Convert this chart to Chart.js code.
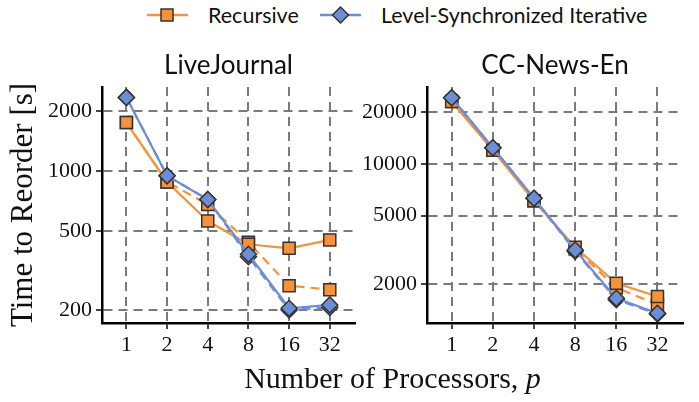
<!DOCTYPE html>
<html lang="en">
<head>
<meta charset="UTF-8">
<title>Time to Reorder</title>
<script src="https://cdn.jsdelivr.net/npm/chart.js"></script>
<style>
    body { margin: 0; background: #fff; }
    #fig { position: relative; width: 699px; height: 402px; overflow: hidden; }
    canvas { position: absolute; top: 0; }
    #leftChart { left: 0; }
    #rightChart { left: 356px; }
    .legend-item { position: absolute; top: 3px; height: 24px; display: flex; align-items: center; }
    .legend-item span { font-family: Lato, sans-serif; font-size: 21.5px; color: #111; margin-left: 20px; }
    #xTitle {
        position: absolute; left: 102px; width: 581px; top: 362px;
        text-align: center; font-family: "Liberation Serif", serif; font-size: 30px; color: #111;
        line-height: 32px;
    }
</style>
</head>
<body>
<div id="fig">
    <div class="legend-item" style="left:147px">
        <svg width="41" height="22"><line x1="0" y1="11" x2="41" y2="11" stroke="#F7923A" stroke-width="2.5"/><rect x="14" y="5" width="12" height="12" fill="#F7923A" stroke="#333" stroke-width="1.5"/></svg>
        <span>Recursive</span>
    </div>
    <div class="legend-item" style="left:320px">
        <svg width="41" height="22"><line x1="0" y1="11" x2="41" y2="11" stroke="#6C8ED6" stroke-width="2.5"/><polygon points="20.5,3 28.5,11 20.5,19 12.5,11" fill="#6C8ED6" stroke="#333" stroke-width="1.5"/></svg>
        <span>Level-Synchronized Iterative</span>
    </div>
    <canvas id="leftChart" width="365" height="402"></canvas>
    <canvas id="rightChart" width="343" height="402"></canvas>
    <div id="xTitle">Number of Processors, <i>p</i></div>
</div>

<script>
    const procLabels = ['1', '2', '4', '8', '16', '32'];

    // LiveJournal
    const ljRecursive = [1750, 880, 560, 428, 408, 450];
    const ljRecursiveAlt = [1750, 880, 678, 438, 265, 253];
    const ljIterative = [2340, 946, 718, 381, 204, 212];
    const ljIterativeAlt = [2340, 946, 718, 370, 200, 206];
    const ljTicks = [200, 500, 1000, 2000];

    // CC-News-En
    const ccRecursive = [23000, 12000, 6100, 3270, 2020, 1690];
    const ccRecursiveAlt = [23000, 12000, 6100, 3200, 1900, 1520];
    const ccIterative = [24200, 12400, 6300, 3150, 1650, 1350];
    const ccIterativeAlt = [24200, 12400, 6300, 3100, 1620, 1340];
    const ccTicks = [2000, 5000, 10000, 20000];

    const ORANGE = '#F7923A';
    const BLUE = '#6C8ED6';
    const SERIF = '"Liberation Serif", serif';

    function toPoints(values) {
        return values.map((v, i) => ({ x: i, y: v }));
    }

    function lineSet(values, color, style, dashed, order) {
        return {
            data: toPoints(values),
            borderColor: color,
            backgroundColor: color,
            borderWidth: 2.2,
            borderDash: dashed ? [9, 6] : [],
            pointStyle: style,
            pointRadius: style === 'rect' ? 8.5 : 8,
            pointBackgroundColor: color,
            pointBorderColor: '#333',
            pointBorderWidth: 1.5,
            tension: 0,
            clip: false,
            order: order
        };
    }

    const gridOpts = {
        color: '#7a7a7a',
        lineWidth: 2,
        tickLength: 6,
        tickColor: '#444',
        tickWidth: 2,
        tickBorderDash: []
    };
    const borderOpts = { display: true, color: '#000', width: 2.5, dash: [9, 6] };

    function makeChart(id, title, rec, recAlt, iter, iterAlt, yTicks, yMin, yMax, yWidth, showYTitle, padRight) {
        const ctx = document.getElementById(id).getContext('2d');
        return new Chart(ctx, {
            type: 'line',
            data: {
                datasets: [
                    lineSet(iter, BLUE, 'rectRot', false, 0),
                    lineSet(iterAlt, BLUE, 'rectRot', true, 1),
                    lineSet(rec, ORANGE, 'rect', false, 2),
                    lineSet(recAlt, ORANGE, 'rect', true, 3)
                ]
            },
            options: {
                responsive: false,
                animation: false,
                layout: { padding: { top: 50, right: padRight, bottom: 39, left: 0 } },
                plugins: {
                    legend: { display: false },
                    tooltip: { enabled: false },
                    title: {
                        display: true,
                        fullSize: false,
                        text: title,
                        font: { family: 'Lato, sans-serif', size: 26, weight: 'normal' },
                        color: '#111',
                        padding: { top: 0, bottom: 6 }
                    }
                },
                scales: {
                    x: {
                        type: 'linear',
                        min: -0.6,
                        max: 5.62,
                        afterBuildTicks: s => { s.ticks = procLabels.map((_, i) => ({ value: i })); },
                        afterFit: s => { s.height = 40; },
                        ticks: {
                            callback: v => procLabels[v],
                            font: { family: SERIF, size: 22 },
                            color: '#111',
                            padding: 3,
                            maxRotation: 0,
                            autoSkip: false
                        },
                        grid: gridOpts,
                        border: borderOpts
                    },
                    y: {
                        type: 'logarithmic',
                        min: yMin,
                        max: yMax,
                        afterBuildTicks: s => { s.ticks = yTicks.map(v => ({ value: v })); },
                        afterFit: s => { s.width = yWidth; },
                        ticks: {
                            callback: v => String(v),
                            font: { family: SERIF, size: 22 },
                            color: '#111',
                            padding: 4,
                            autoSkip: false
                        },
                        title: {
                            display: showYTitle,
                            text: 'Time to Reorder [s]',
                            font: { family: SERIF, size: 31 },
                            color: '#111',
                            padding: { top: 5, bottom: 0 }
                        },
                        grid: gridOpts,
                        border: borderOpts
                    }
                }
            }
        });
    }

    // nudge top/bottom padding so the plot area lands where the reference has it
    function fitArea(chart, top, bottom) {
        const a = chart.chartArea;
        const p = chart.options.layout.padding;
        chart.options.layout.padding = {
            top: p.top + (top - a.top),
            right: p.right,
            bottom: p.bottom + (a.bottom - bottom),
            left: 0
        };
        chart.update();
    }

    const left = makeChart('leftChart', 'LiveJournal', ljRecursive, ljRecursiveAlt, ljIterative, ljIterativeAlt,
        ljTicks, 172, 2640, 102, true, 0);
    const right = makeChart('rightChart', 'CC-News-En', ccRecursive, ccRecursiveAlt, ccIterative, ccIterativeAlt,
        ccTicks, 1186, 27950, 71, false, 16);

    fitArea(left, 87, 323);
    fitArea(right, 87, 323);
</script>
</body>
</html>
